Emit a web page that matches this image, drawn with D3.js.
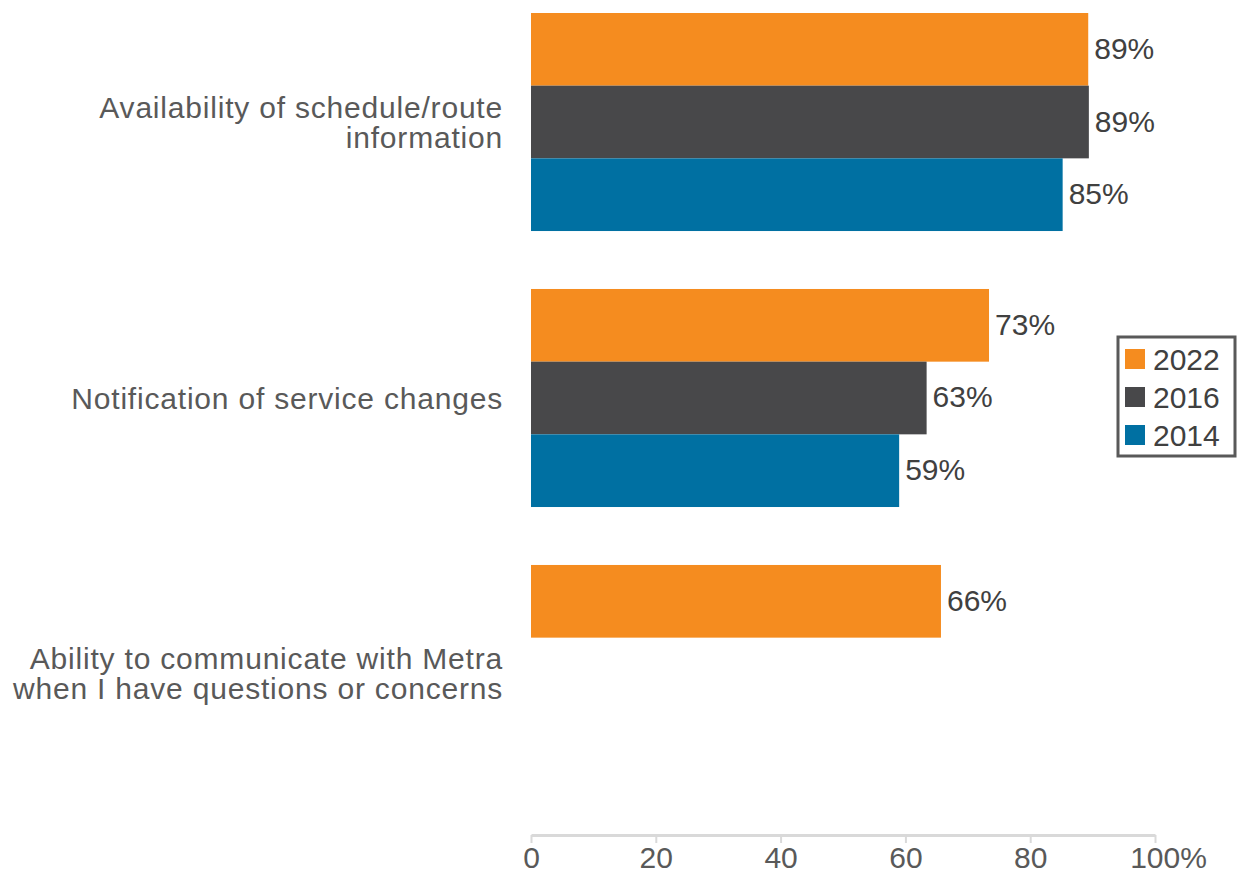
<!DOCTYPE html>
<html>
<head>
<meta charset="utf-8">
<script src="https://cdn.jsdelivr.net/npm/d3@7"></script>
<style>
  body { margin: 0; background: #fff; }
  svg { display: block; font-family: "Liberation Sans", Arial, sans-serif; }
</style>
</head>
<body>
<svg id="canvas" width="1240" height="873"></svg>
<script>
//data
var categories = ["Availability of schedule/route information",
                  "Notification of service changes",
                  "Ability to communicate with Metra when I have questions or concerns"];
var categoryLines = [["Availability of schedule/route", "information"],
                     ["Notification of service changes"],
                     ["Ability to communicate with Metra", "when I have questions or concerns"]];
var years = ["2022", "2016", "2014"];
var values2022 = [89.3, 73.4, 65.7];
var values2016 = [89.4, 63.4, null];
var values2014 = [85.2, 59.0, null];
var xTicks = [0, 20, 40, 60, 80, 100];
var xTickLabels = ["0", "20", "40", "60", "80", "100%"];

var colors = {"2022": "#f58c1f", "2016": "#48484a", "2014": "#0070a2"};

var svg = d3.select("#canvas");
var width = +svg.attr("width");
var height = +svg.attr("height");

var series = [values2022, values2016, values2014];

var xScale = d3.scaleLinear()
    .domain([0, 100])
    .range([531, 1155]);

//groups: step 276, bars 218 tall
var yGroup = d3.scaleBand()
    .domain(categories)
    .range([13, 783])
    .paddingInner(0.21)
    .paddingOuter(0);

var yBar = d3.scaleBand()
    .domain(years)
    .range([0, yGroup.bandwidth()]);

//bars
categories.forEach(function(cat, i) {
  var g = svg.append("g")
      .attr("transform", "translate(0," + yGroup(cat) + ")");
  years.forEach(function(yr, j) {
    var v = series[j][i];
    if (v == null) return;
    g.append("rect")
      .attr("x", xScale(0))
      .attr("y", yBar(yr))
      .attr("width", xScale(v) - xScale(0))
      .attr("height", yBar.bandwidth())
      .style("fill", colors[yr]);
    g.append("text")
      .attr("x", xScale(v) + 6)
      .attr("y", yBar(yr) + yBar.bandwidth() / 2 - 1)
      .attr("dy", "0.35em")
      .style("font-size", "30px")
      .style("fill", "#404040")
      .text(Math.round(v) + "%");
  });

  //category label
  var lines = categoryLines[i];
  var lineH = 30;
  var cy = yGroup(cat) + yGroup.bandwidth() / 2;
  var t = svg.append("text")
      .attr("text-anchor", "end")
      .style("font-size", "30px")
      .style("letter-spacing", "0.8px")
      .style("fill", "#595959");
  lines.forEach(function(l, k) {
    t.append("tspan")
      .attr("x", 503)
      .attr("y", cy + (k - (lines.length - 1) / 2) * lineH)
      .attr("dy", "0.35em")
      .text(l);
  });
});

//x axis
var xAxis = d3.axisBottom(xScale)
    .tickValues(xTicks)
    .tickSize(8)
    .tickSizeOuter(0)
    .tickFormat(function(d, i) { return xTickLabels[i]; });

var axisG = svg.append("g")
    .attr("transform", "translate(0,835)")
    .call(xAxis);
axisG.select(".domain").style("stroke", "#d9d9d9").style("stroke-width", 3);
axisG.selectAll(".tick line").style("stroke", "#d9d9d9").style("stroke-width", 2);
axisG.selectAll(".tick text")
    .attr("y", 12)
    .attr("dy", "0.71em")
    .attr("dx", function(d, i) { return xTickLabels[i].indexOf("%") >= 0 ? 13 : 0; })
    .style("font-size", "30px")
    .style("font-family", "Liberation Sans, Arial, sans-serif")
    .style("fill", "#595959");

//legend
var legend = svg.append("g");
legend.append("rect")
    .attr("x", 1118)
    .attr("y", 337)
    .attr("width", 117)
    .attr("height", 119)
    .style("fill", "white")
    .style("stroke", "#595959")
    .style("stroke-width", 3);

years.forEach(function(yr, j) {
  var ly = 349 + j * 38;
  legend.append("rect")
    .attr("x", 1125)
    .attr("y", ly)
    .attr("width", 20)
    .attr("height", 20)
    .style("fill", colors[yr]);
  legend.append("text")
    .attr("x", 1153)
    .attr("y", ly + 10)
    .attr("dy", "0.35em")
    .style("font-size", "30px")
    .style("fill", "#404040")
    .text(yr);
});
</script>
</body>
</html>
